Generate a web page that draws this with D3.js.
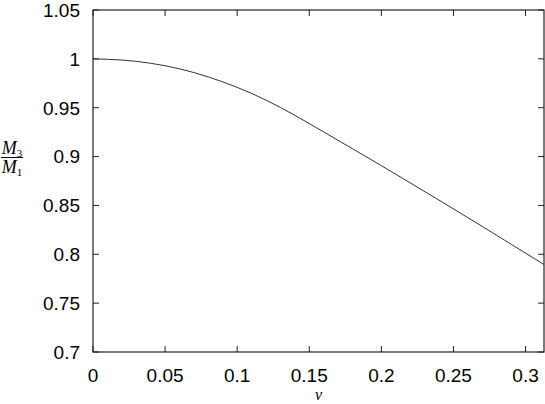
<!DOCTYPE html>
<html>
<head>
<meta charset="utf-8">
<script src="https://cdn.jsdelivr.net/npm/d3@7"></script>
<style>
  body { margin: 0; background: #fff; }
  .tick-label { font-family: "Liberation Sans", Arial, sans-serif; font-size: 19px; fill: #000; }
  .math { font-family: "Liberation Serif", "Times New Roman", serif; font-style: italic; fill: #000; }
</style>
</head>
<body>
<div id="chart"></div>
<script>
// curve: v and M3/M1
const vValues = [0, 0.02, 0.04, 0.06, 0.08, 0.10, 0.12, 0.14, 0.16, 0.18, 0.20, 0.22, 0.24, 0.26, 0.28, 0.30, 0.3128];
const ratioValues = [1.0000, 0.9988, 0.9955, 0.9898, 0.9815, 0.9708, 0.9578, 0.9422, 0.9252, 0.9080, 0.8907, 0.8731, 0.8554, 0.8375, 0.8194, 0.8012, 0.7895];

const xTicks = [0, 0.05, 0.1, 0.15, 0.2, 0.25, 0.3];
const xTickLabels = ["0", "0.05", "0.1", "0.15", "0.2", "0.25", "0.3"];
const yTicks = [0.7, 0.75, 0.8, 0.85, 0.9, 0.95, 1, 1.05];
const yTickLabels = ["0.7", "0.75", "0.8", "0.85", "0.9", "0.95", "1", "1.05"];

var width = 545, height = 404;
var margin = {top: 10, right: 1, bottom: 52, left: 93};
var w = width - margin.left - margin.right;
var h = height - margin.top - margin.bottom;

var svg = d3.select("#chart").append("svg")
  .attr("width", width)
  .attr("height", height);

var g = svg.append("g")
  .attr("transform", "translate(" + margin.left + "," + margin.top + ")");

var x = d3.scaleLinear().domain([0, 0.3128]).range([0, w]);
var y = d3.scaleLinear().domain([0.7, 1.05]).range([h, 0]);

var tickLen = 6;

// ticks on all four sides, pointing inward (gnuplot style)
g.selectAll(".xt-b").data(xTicks).enter().append("line")
  .attr("x1", d => x(d)).attr("x2", d => x(d))
  .attr("y1", h).attr("y2", h - tickLen)
  .attr("stroke", "#222").attr("stroke-width", 1);
g.selectAll(".xt-t").data(xTicks).enter().append("line")
  .attr("x1", d => x(d)).attr("x2", d => x(d))
  .attr("y1", 0).attr("y2", tickLen)
  .attr("stroke", "#222").attr("stroke-width", 1);
g.selectAll(".yt-l").data(yTicks).enter().append("line")
  .attr("x1", 0).attr("x2", tickLen)
  .attr("y1", d => y(d)).attr("y2", d => y(d))
  .attr("stroke", "#222").attr("stroke-width", 1);
g.selectAll(".yt-r").data(yTicks).enter().append("line")
  .attr("x1", w).attr("x2", w - tickLen)
  .attr("y1", d => y(d)).attr("y2", d => y(d))
  .attr("stroke", "#222").attr("stroke-width", 1);

// tick labels
g.selectAll(".xl").data(xTicks).enter().append("text")
  .attr("class", "tick-label")
  .attr("x", d => x(d))
  .attr("y", h + 30)
  .attr("text-anchor", "middle")
  .text((d, i) => xTickLabels[i]);

g.selectAll(".yl").data(yTicks).enter().append("text")
  .attr("class", "tick-label")
  .attr("x", -13)
  .attr("y", d => y(d))
  .attr("dy", "0.36em")
  .attr("text-anchor", "end")
  .text((d, i) => yTickLabels[i]);

// the curve
var pts = vValues.map((v, i) => [v, ratioValues[i]]);
g.append("path")
  .datum(pts)
  .attr("fill", "none")
  .attr("stroke", "#333")
  .attr("stroke-width", 1)
  .attr("d", d3.line()
    .x(d => x(d[0]))
    .y(d => y(d[1]))
    .curve(d3.curveNatural));

// frame
g.append("rect")
  .attr("x", 0).attr("y", 0)
  .attr("width", w).attr("height", h)
  .attr("fill", "none")
  .attr("stroke", "#222")
  .attr("stroke-width", 1.2);

// axis labels
svg.append("text")
  .attr("class", "math")
  .attr("x", margin.left + w / 2)
  .attr("y", 400)
  .attr("text-anchor", "middle")
  .style("font-size", "16px")
  .text("v");

var ylab = svg.append("g").attr("transform", "translate(12,0)");
var num = ylab.append("text").attr("class", "math")
  .attr("x", 0).attr("y", 154).attr("text-anchor", "middle")
  .style("font-size", "18px");
num.append("tspan").text("M");
num.append("tspan").attr("dy", 3).style("font-size", "11px").style("font-style", "normal").text("3");
ylab.append("line")
  .attr("x1", -11).attr("x2", 11)
  .attr("y1", 157.5).attr("y2", 157.5)
  .attr("stroke", "#000").attr("stroke-width", 1);
var den = ylab.append("text").attr("class", "math")
  .attr("x", 0).attr("y", 173).attr("text-anchor", "middle")
  .style("font-size", "18px");
den.append("tspan").text("M");
den.append("tspan").attr("dy", 3).style("font-size", "11px").style("font-style", "normal").text("1");
</script>
</body>
</html>
